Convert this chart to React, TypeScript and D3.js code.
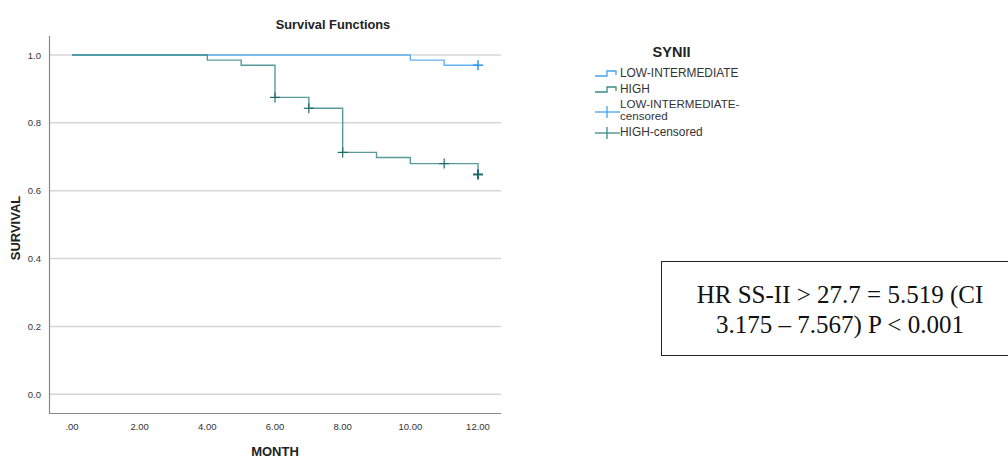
import React from "react";
import * as d3 from "d3";

const xTicks = [0, 2, 4, 6, 8, 10, 12];
const yTicks = [0, 0.2, 0.4, 0.6, 0.8, 1.0];

const lowTimes = [0, 10, 11, 12];
const lowSurv = [1.0, 0.985, 0.97, 0.97];
const highTimes = [0, 4, 5, 6, 7, 8, 9, 10, 12];
const highSurv = [1.0, 0.985, 0.97, 0.875, 0.843, 0.713, 0.698, 0.68, 0.648];

const lowCensT = [12];
const lowCensS = [0.97];
const highCensT = [6, 7, 8, 11, 12];
const highCensS = [0.875, 0.843, 0.713, 0.68, 0.648];

const legendLabels = ["LOW-INTERMEDIATE", "HIGH", "LOW-INTERMEDIATE-|censored", "HIGH-censored"];

const LOW_C = "#47a3ec";
const HIGH_C = "#3c8a8a";

export default function App() {
  const x = d3.scaleLinear().domain([-0.68, 12.68]).range([49, 501]);
  const y = d3.scaleLinear().domain([-0.055, 1.056]).range([413, 36]);
  const line = d3
    .line<[number, number]>()
    .x((d) => x(d[0]))
    .y((d) => y(d[1]))
    .curve(d3.curveStepAfter);
  const lowPts = lowTimes.map((t, i) => [t, lowSurv[i]] as [number, number]);
  const highPts = highTimes.map((t, i) => [t, highSurv[i]] as [number, number]);
  const sans = "Arial, 'Liberation Sans', sans-serif";

  const cross = (cx: number, cy: number, c: string, k: string, w = 1.3) => (
    <g key={k} stroke={c} strokeWidth={w}>
      <line x1={cx - 5} x2={cx + 5} y1={cy} y2={cy} />
      <line x1={cx} x2={cx} y1={cy - 5} y2={cy + 5} />
    </g>
  );

  const legY = [73, 89, 111, 132];
  return (
    <svg
      width={1008}
      height={459}
      style={{ position: "absolute", left: 0, top: 0, background: "#fff" }}
      fontFamily={sans}
    >
      <rect x={0} y={0} width={1008} height={459} fill="#fff" />
      <text x={333} y={29} textAnchor="middle" fontWeight="bold" fontSize={12.8} fill="#222">
        Survival Functions
      </text>
      {yTicks.map((t) => (
        <g key={t}>
          <line x1={49} x2={501} y1={y(t)} y2={y(t)} stroke="#d6d6d6" strokeWidth={1.5} />
          <text x={41} y={y(t) + 3.5} textAnchor="end" fontSize={9.5} fill="#333">
            {t.toFixed(1)}
          </text>
        </g>
      ))}
      {xTicks.map((t) => (
        <text key={t} x={x(t)} y={430} textAnchor="middle" fontSize={9.5} fill="#333">
          {t === 0 ? ".00" : t.toFixed(2)}
        </text>
      ))}
      <line x1={49.5} x2={49.5} y1={36} y2={413.5} stroke="#8a8a8a" strokeWidth={1.2} />
      <line x1={49} x2={501} y1={413.5} y2={413.5} stroke="#8a8a8a" strokeWidth={1.2} />

      <path d={line(lowPts) || ""} fill="none" stroke={LOW_C} strokeWidth={1.4} opacity={0.85} />
      <path d={line(highPts) || ""} fill="none" stroke={HIGH_C} strokeWidth={1.4} opacity={0.85} />
      {lowCensT.map((t, i) => cross(x(t), y(lowCensS[i]), "#2f95e8", "l" + i, 1.5))}
      {highCensT.map((t, i) =>
        cross(x(t), y(highCensS[i]), "#1f6a6a", "h" + i, i === highCensT.length - 1 ? 2 : 1.2)
      )}

      <text
        transform={`translate(20,228) rotate(-90)`}
        textAnchor="middle"
        fontWeight="bold"
        fontSize={13}
        fill="#222"
      >
        SURVIVAL
      </text>
      <text x={275} y={456} textAnchor="middle" fontWeight="bold" fontSize={13} fill="#222">
        MONTH
      </text>

      <text x={671.5} y={57} textAnchor="middle" fontWeight="bold" fontSize={14.5} fill="#222">
        SYNII
      </text>
      {legendLabels.map((lab, i) => {
        const c = i % 2 === 0 ? LOW_C : HIGH_C;
        const ly = legY[i];
        const parts = lab.split("|");
        return (
          <g key={lab}>
            {i < 2 ? (
              <path
                d={`M595,${ly + 3}H607V${ly - 2}H616V${ly + 2}`}
                fill="none"
                stroke={c}
                strokeWidth={1.3}
              />
            ) : (
              <g stroke={c} strokeWidth={1.3}>
                <line x1={595} x2={620} y1={ly + 1} y2={ly + 1} />
                <line x1={607} x2={607} y1={ly - 5} y2={ly + 7} />
              </g>
            )}
            {parts.length === 1 ? (
              <text x={620} y={ly + 4} fontSize={11.9} fill="#333">
                {lab}
              </text>
            ) : (
              <g fontSize={11.6} fill="#333">
                <text x={620} y={ly - 3}>
                  {parts[0]}
                </text>
                <text x={620} y={ly + 9}>
                  {parts[1]}
                </text>
              </g>
            )}
          </g>
        );
      })}

      <rect x={661.5} y={261.5} width={360} height={94} fill="none" stroke="#222" strokeWidth={1} />
      <text
        x={840}
        textAnchor="middle"
        fontFamily="'Times New Roman', 'Liberation Serif', serif"
        fontSize={25}
        fill="#111"
      >
        <tspan x={840} y={303}>HR SS-II &gt; 27.7 = 5.519 (CI</tspan>
        <tspan x={840} y={333}>3.175 – 7.567) P &lt; 0.001</tspan>
      </text>
    </svg>
  );
}
